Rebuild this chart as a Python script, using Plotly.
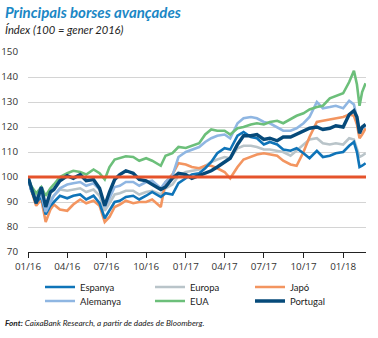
import plotly.graph_objects as go

# ---- data -------------------------------------------------------------
dates = [
    "2016-01-01", "2016-01-08", "2016-01-20", "2016-02-01", "2016-02-11", "2016-02-22",
    "2016-03-01", "2016-03-15", "2016-04-01", "2016-04-15", "2016-05-01", "2016-05-15",
    "2016-06-01", "2016-06-15", "2016-06-27", "2016-07-08", "2016-07-20", "2016-08-01",
    "2016-08-15", "2016-09-01", "2016-09-15", "2016-10-01", "2016-10-15", "2016-11-04",
    "2016-11-15", "2016-12-01", "2016-12-15",
    "2017-01-01", "2017-01-15", "2017-02-01", "2017-02-15", "2017-03-01", "2017-03-15",
    "2017-04-01", "2017-04-14", "2017-05-01", "2017-05-15", "2017-06-01", "2017-06-15",
    "2017-07-01", "2017-07-15", "2017-08-01", "2017-08-15", "2017-09-01", "2017-09-15",
    "2017-10-01", "2017-10-15", "2017-11-01", "2017-11-15", "2017-12-01", "2017-12-15",
    "2018-01-01", "2018-01-15", "2018-01-26", "2018-02-02", "2018-02-08", "2018-02-14",
    "2018-02-22",
]

espanya = [
    100, 95, 90, 92, 85, 88.5, 90, 92.5, 91.5, 92.5, 93, 91, 92.5, 89.5, 83.5, 86.5,
    90, 90.5, 92, 92.5, 91, 92.5, 94, 92, 93.5, 93, 97.5,
    99.5, 101, 101.5, 103.5, 106, 109.5, 111.5, 111, 116.5, 118, 116, 115.5, 113, 114,
    113, 111, 110.5, 111.5, 109.5, 107.5, 110.5, 108, 108.5, 109.5,
    110, 112.5, 114, 110, 104, 104.5, 105.5,
]
alemanya = [
    100, 95, 91, 93, 86, 90, 92.5, 95.5, 97, 97.5, 98, 96.5, 97.5, 95, 88, 91.5,
    96, 96.5, 98, 98, 96.5, 98, 98.5, 95.5, 98, 100.5, 108,
    110, 111, 112, 114, 115.5, 116.5, 117, 115.5, 121.5, 123.5, 124, 123.5, 122, 121.5,
    120, 118.5, 118.5, 119.5, 121.5, 124, 130, 127.5, 128, 128.5,
    127.5, 130.5, 129, 124, 118.5, 119.5, 120.5,
]
europa = [
    100, 95.5, 92, 94, 87.5, 91, 92.5, 95, 94.5, 95, 95.5, 94, 95, 92.5, 86.5, 89.5,
    93, 93.5, 94.5, 94.5, 93, 94, 94.5, 93, 95.5, 97, 100.5,
    102, 102.5, 103, 104.5, 106, 107, 108, 107.5, 111.5, 112.5, 112.5, 112, 111, 111,
    110.5, 110, 108.5, 110.5, 113, 115, 115.5, 113.5, 113, 113.5,
    113, 115.5, 115, 111.5, 108, 108.5, 109.5,
]
eua = [
    100, 96.5, 93.5, 96, 92.5, 95.5, 97, 100, 101.5, 102.5, 102, 101, 103, 101.5, 99, 104,
    107, 107.5, 108.3, 108, 106.5, 107.5, 106.5, 104.5, 108.5, 109.5, 112,
    111.6, 112.5, 113.5, 117, 119, 118.5, 118.5, 117, 119.5, 120, 121, 121.5, 121, 122,
    122.5, 121.5, 123, 124.5, 125.5, 127, 128, 128.5, 131.5, 132.5,
    133.5, 138, 142.5, 137, 128.5, 134, 137.5,
]
japo = [
    100, 95, 88.5, 91, 82, 87, 89, 87, 86.5, 89, 91, 89.5, 90.5, 88.5, 82, 84,
    88, 89, 90.5, 89.5, 90, 90, 91, 88, 98, 101, 105.5,
    105, 104, 103.5, 104.5, 104.5, 103.5, 102, 99.5, 104, 107, 108, 109, 109.5, 109,
    108.5, 106.5, 105, 104.5, 110, 116, 122, 122.5, 123, 123.5,
    124, 125, 124.5, 121, 115.5, 117, 119.5,
]
portugal = [
    100, 96, 89.5, 96, 88, 94, 95, 98.5, 100.5, 99.5, 101, 98.5, 99, 95.5, 88.5, 94,
    99, 101, 102.5, 101.5, 99, 98.5, 97, 95, 96, 99.5, 101.5,
    101, 99.5, 100.5, 101.5, 102.5, 104, 106, 107.5, 113, 116.5, 116.5, 117, 115, 115.5,
    114.5, 116, 116, 117, 118.5, 119.5, 120, 119, 119.5, 120.5,
    120, 125, 126.5, 124, 117.5, 120, 121,
]
reference_level = 100

tick_vals = ["2016-01-01", "2016-04-01", "2016-07-01", "2016-10-01", "2017-01-01",
             "2017-04-01", "2017-07-01", "2017-10-01", "2018-01-01"]
tick_text = ["01/16", "04/16", "07/16", "10/16", "01/17", "04/17", "07/17", "10/17", "01/18"]

# ---- figure -----------------------------------------------------------
W, H = 378, 338
ML, MR, MT, MB = 28, 12, 52, 86
PW, PH = W - ML - MR, H - MT - MB


def px(xp):
    return (xp - ML) / PW


def py(yp):
    return (H - MB - yp) / PH


series = [
    ("Europa", europa, "#b9c4c9", 2.6, "legend3"),
    ("Japó", japo, "#f39560", 2.6, "legend5"),
    ("Espanya", espanya, "#0f74b8", 2.6, "legend"),
    ("Alemanya", alemanya, "#8fb6e2", 2.6, "legend2"),
    ("EUA", eua, "#6cbf7a", 2.6, "legend4"),
    ("Portugal", portugal, "#064a7a", 3.4, "legend6"),
]

fig = go.Figure()
for name, vals, color, w, leg in series:
    fig.add_trace(go.Scatter(
        x=dates, y=vals, mode="lines", name=name,
        line=dict(color=color, width=w), legend=leg, hoverinfo="skip",
    ))

# reference line at 100
fig.add_shape(type="line", xref="paper", x0=0, x1=1, yref="y",
              y0=reference_level, y1=reference_level,
              line=dict(color="#e5532b", width=3), layer="above")

legend_pos = {
    "legend": (45, 287), "legend3": (155, 287), "legend5": (255, 287),
    "legend2": (45, 301), "legend4": (155, 301), "legend6": (255, 301),
}
leg_layout = {}
for key, (lx, ly) in legend_pos.items():
    leg_layout[key] = dict(
        x=px(lx - 5), y=py(ly), xanchor="left", yanchor="middle",
        orientation="h", bgcolor="rgba(0,0,0,0)", borderwidth=0,
        font=dict(family="Lato", size=9.5, color="#222"),
        itemwidth=30, tracegroupgap=0,
    )

fig.update_layout(
    width=W, height=H,
    margin=dict(l=ML, r=MR, t=MT, b=MB),
    paper_bgcolor="white", plot_bgcolor="white",
    showlegend=True,
    font=dict(family="Open Sans", size=10, color="#333"),
    xaxis=dict(
        type="date", range=["2016-01-01", "2018-02-23"],
        tickmode="array", tickvals=tick_vals, ticktext=tick_text,
        showgrid=False, zeroline=False,
        showline=True, linecolor="#222", linewidth=1,
        ticks="outside", ticklen=5, tickcolor="#222", tickwidth=1,
        tickfont=dict(size=9.8, color="#333"),
    ),
    yaxis=dict(
        range=[70, 150], dtick=10, tick0=70,
        showgrid=True, gridcolor="#d4d4d4", gridwidth=1,
        zeroline=False, showline=False, automargin=False,
        ticks="outside", ticklen=7, tickcolor="rgba(0,0,0,0)",
        tickfont=dict(size=9.8, color="#333"),
    ),
    **leg_layout,
)

fig.add_annotation(
    text="<b><i>Principals borses avançades</i></b>",
    xref="paper", yref="paper", x=px(3), y=py(12), xanchor="left", yanchor="middle",
    showarrow=False, font=dict(family="Lato", size=15, color="#1b87c5"),
)
fig.add_annotation(
    text="<i>Índex (100 = gener 2016)</i>",
    xref="paper", yref="paper", x=px(3), y=py(30), xanchor="left", yanchor="middle",
    showarrow=False, font=dict(family="Lato", size=11.2, color="#222"),
)
fig.add_annotation(
    text="<b><i>Font:</i></b><i> CaixaBank Research, a partir de dades de Bloomberg.</i>",
    xref="paper", yref="paper", x=px(3), y=py(323), xanchor="left", yanchor="middle",
    showarrow=False, font=dict(family="Lato", size=8.2, color="#222"),
)

fig.write_html("out.html")
